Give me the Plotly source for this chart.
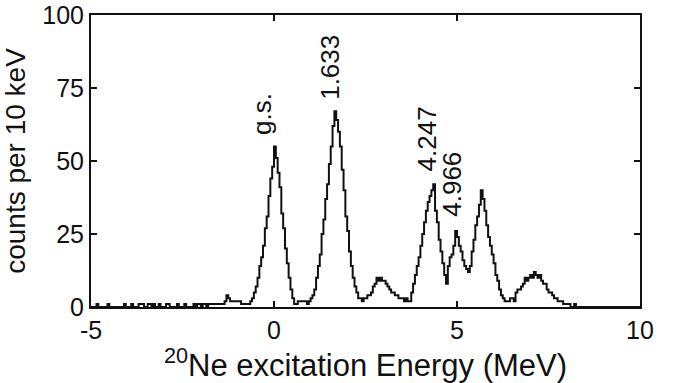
import plotly.graph_objects as go

bin_start = -5.0
bin_width = 0.05
counts = [
    # -5 .. -4
    0, 0, 0, 1, 0, 0, 0, 0, 0, 1, 0, 0, 0, 0, 0, 0, 0, 0, 1, 0,
    # -4 .. -3
    0, 0, 1, 0, 0, 0, 1, 1, 1, 0, 0, 1, 1, 0, 1, 0, 0, 1, 0, 0,
    # -3 .. -2
    0, 1, 1, 0, 0, 0, 0, 1, 0, 0, 0, 1, 0, 0, 0, 0, 1, 0, 1, 1,
    # -2 .. -1
    0, 1, 1, 0, 1, 1, 1, 1, 1, 1, 1, 1, 1, 2, 4, 3, 2, 2, 2, 2,
    # -1 .. 0
    2, 2, 1, 1, 1, 1, 1, 2, 3, 5, 7, 10, 14, 17, 21, 27, 31, 38, 44, 48,
    # 0 .. 1
    55, 51, 46, 41, 32, 27, 20, 15, 10, 6, 3, 1, 1, 2, 2, 2, 2, 2, 1, 2,
    # 1 .. 2
    3, 4, 6, 10, 14, 18, 25, 30, 37, 42, 49, 55, 62, 67, 64, 60, 55, 47, 40, 31,
    # 2 .. 3
    26, 19, 14, 10, 7, 5, 3, 3, 2, 3, 3, 4, 4, 5, 7, 8, 10, 9, 10, 9,
    # 3 .. 4
    9, 8, 7, 6, 5, 5, 4, 4, 3, 3, 3, 2, 3, 2, 2, 5, 8, 11, 14, 17,
    # 4 .. 5
    21, 25, 29, 33, 36, 38, 40, 42, 33, 29, 23, 19, 15, 11, 8, 14, 17, 18, 21, 26,
    # 5 .. 6
    24, 21, 19, 16, 14, 13, 12, 14, 19, 23, 28, 31, 35, 40, 37, 33, 28, 24, 21, 18,
    # 6 .. 7
    15, 11, 9, 6, 4, 3, 2, 2, 2, 3, 3, 2, 5, 6, 6, 7, 8, 10, 9, 10,
    # 7 .. 8
    11, 10, 12, 11, 10, 11, 9, 8, 8, 6, 5, 5, 4, 3, 3, 2, 2, 2, 1, 1,
    # 8 .. 9
    1, 1, 0, 0, 1, 0, 0, 0, 0, 0, 0, 0, 0, 0, 0, 0, 0, 0, 0, 0,
    # 9 .. 10
    0, 0, 0, 0, 0, 0, 0, 0, 0, 0, 0, 0, 0, 0, 0, 0, 0, 0, 0, 0,
]
edges = [bin_start + i * bin_width for i in range(len(counts) + 1)]

peak_labels = ["g.s.", "1.633", "4.247", "4.966"]
peak_label_x = [-0.33, 1.53, 4.17, 4.84]
peak_label_y = [58.2, 70.1, 45.8, 30.1]

x_ticks = [-5, 0, 5, 10]
y_ticks = [0, 25, 50, 75, 100]

xs = edges
ys = counts + [counts[-1]]

FONT = "Liberation Sans, Arial, Helvetica"

fig = go.Figure()
fig.add_trace(go.Scatter(
    x=xs, y=ys, mode="lines", line=dict(color="#111111", width=2, shape="hv"),
    showlegend=False, hoverinfo="skip"))

for t, x, y in zip(peak_labels, peak_label_x, peak_label_y):
    fig.add_annotation(x=x, y=y, text=t, textangle=-90, showarrow=False,
                       xanchor="center", yanchor="bottom",
                       font=dict(size=26, color="#111111", family=FONT))

axis_common = dict(showline=True, linecolor="#111111", linewidth=2, mirror="allticks",
                   ticks="inside", ticklen=6, tickwidth=1.5, tickcolor="#111111",
                   showgrid=False, zeroline=False, automargin=False,
                   ticklabeloverflow="allow",
                   tickfont=dict(size=25, color="#111111", family=FONT))

fig.update_xaxes(range=[-5, 10], tickvals=x_ticks, ticktext=[str(v) for v in x_ticks],
                 title=dict(text="<sup>20</sup>Ne excitation Energy (MeV)",
                            font=dict(size=31, color="#111111", family=FONT),
                            standoff=3),
                 **axis_common)
fig.update_yaxes(range=[0, 100], tickvals=y_ticks, ticktext=[str(v) for v in y_ticks],
                 title=dict(text="counts per 10 keV",
                            font=dict(size=28, color="#111111", family=FONT)),
                 **axis_common)

fig.update_layout(width=687, height=383, margin=dict(l=91, r=47, t=15, b=76),
                  paper_bgcolor="white", plot_bgcolor="white")

# remove the default 8px page margin so the figure fills the window exactly
fig.write_html("out.html", config={"displayModeBar": False},
               post_script="document.body.style.margin='0';document.body.style.overflow='hidden';")
